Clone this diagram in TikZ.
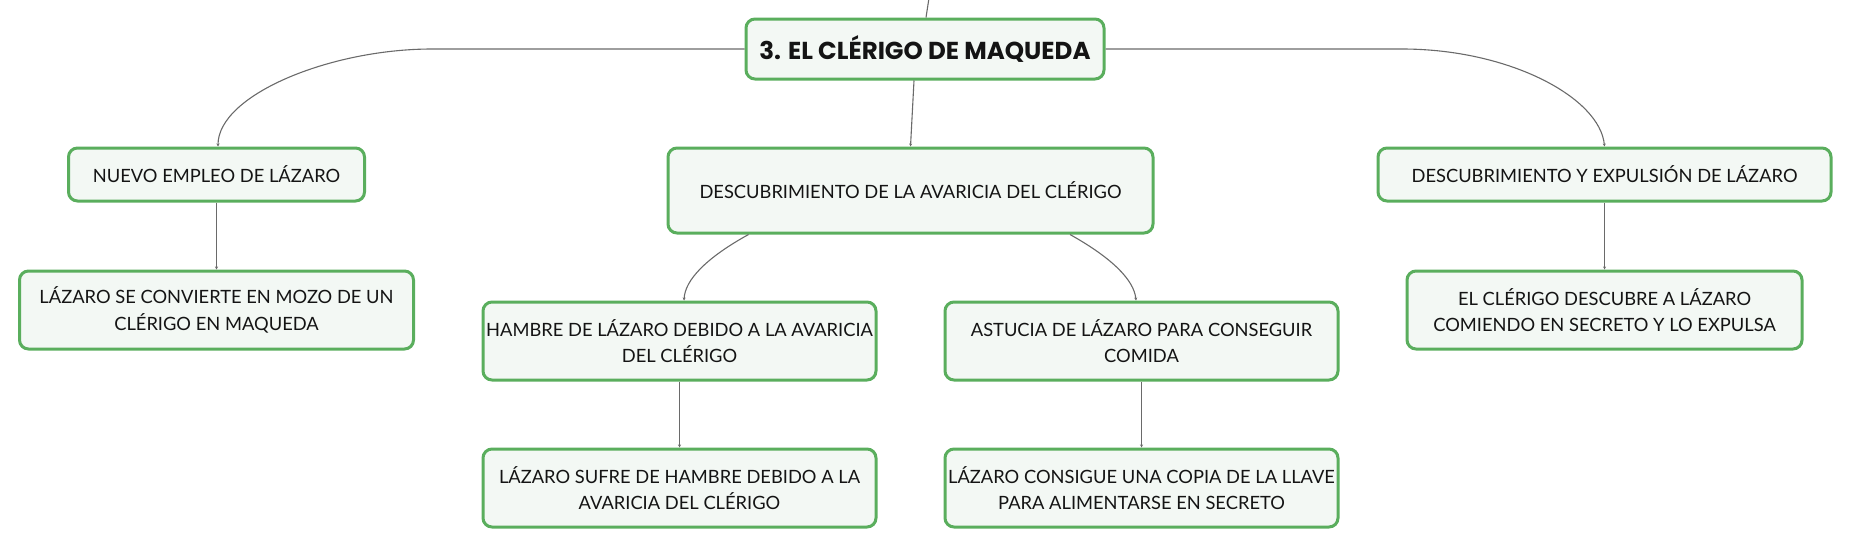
\documentclass[tikz,border=0pt]{standalone}
\usepackage{fontspec}
\setmainfont{Lato}
\newfontfamily\titlefont{Poppins}
\usetikzlibrary{calc,arrows.meta}
\definecolor{boxgreen}{HTML}{5AAE5D}
\definecolor{boxfill}{HTML}{F3F8F4}
\definecolor{linegray}{HTML}{6A6A6A}
\definecolor{txt}{HTML}{141414}
\tikzset{
  mapbox/.style={draw=boxgreen, line width=3pt, fill=boxfill, rounded corners=9pt,
    inner sep=0pt, align=center, text=txt,
    font=\fontsize{18.3}{26.7}\selectfont},
  titlebox/.style={mapbox, font=\titlefont\bfseries\fontsize{24.5}{28}\selectfont},
  conn/.style={draw=linegray, line width=1.1pt, -{Stealth[length=3pt,width=3pt]}},
}
\begin{document}
\begin{tikzpicture}[x=1pt,y=-1pt]
\useasboundingbox (0,0) rectangle (1851,549);
% nodes
\node[titlebox, minimum width=358pt, minimum height=60pt] (title) at (925,49) {3. EL CLÉRIGO DE MAQUEDA};
\node[mapbox, minimum width=296pt, minimum height=53pt] (n1) at (216.5,174.5) {NUEVO EMPLEO DE LÁZARO};
\node[mapbox, minimum width=485pt, minimum height=85pt] (n2) at (910.5,190.5) {DESCUBRIMIENTO DE LA AVARICIA DEL CLÉRIGO};
\node[mapbox, minimum width=453pt, minimum height=53pt] (n3) at (1604.5,174.5) {DESCUBRIMIENTO Y EXPULSIÓN DE LÁZARO};
\node[mapbox, minimum width=394pt, minimum height=78pt] (c1) at (216.5,310) {LÁZARO SE CONVIERTE EN MOZO DE UN\\CLÉRIGO EN MAQUEDA};
\node[mapbox, minimum width=393pt, minimum height=78pt] (c2) at (679.5,341) {HAMBRE DE LÁZARO DEBIDO A LA AVARICIA\\DEL CLÉRIGO};
\node[mapbox, minimum width=393pt, minimum height=78pt] (c3) at (1141.5,341) {ASTUCIA DE LÁZARO PARA CONSEGUIR\\COMIDA};
\node[mapbox, minimum width=395pt, minimum height=78pt] (c4) at (1604.5,310) {EL CLÉRIGO DESCUBRE A LÁZARO\\COMIENDO EN SECRETO Y LO EXPULSA};
\node[mapbox, minimum width=393pt, minimum height=78pt] (g1) at (679.5,488) {LÁZARO SUFRE DE HAMBRE DEBIDO A LA\\AVARICIA DEL CLÉRIGO};
\node[mapbox, minimum width=393pt, minimum height=78pt] (g2) at (1141.5,488) {LÁZARO CONSIGUE UNA COPIA DE LA LLAVE\\PARA ALIMENTARSE EN SECRETO};
% connectors
\coordinate (topend) at (929,-2);
\coordinate (lbend) at (432,49);
\coordinate (rbend) at (1402,49);
\draw[draw=linegray, line width=1.1pt] (topend) -- ([xshift=1pt]title.north);
\draw[conn] (title.west) -- (lbend) .. controls (330,49) and (218,95) .. ([xshift=1.5pt]n1.north);
\draw[conn] (title.east) -- (rbend) .. controls (1510,49) and (1600,98) .. (n3.north);
\draw[conn] ([xshift=-11pt]title.south) -- (n2.north);
\draw[conn] ([xshift=-162pt]n2.south) .. controls (706,258) and (685,280) .. ([xshift=4.5pt]c2.north);
\draw[conn] ([xshift=159.5pt]n2.south) .. controls (1112,258) and (1134,280) .. ([xshift=-5.5pt]c3.north);
\draw[conn] (n1.south) -- (c1.north);
\draw[conn] (n3.south) -- (c4.north);
\draw[conn] (c2.south) -- (g1.north);
\draw[conn] (c3.south) -- (g2.north);
\end{tikzpicture}
\end{document}
